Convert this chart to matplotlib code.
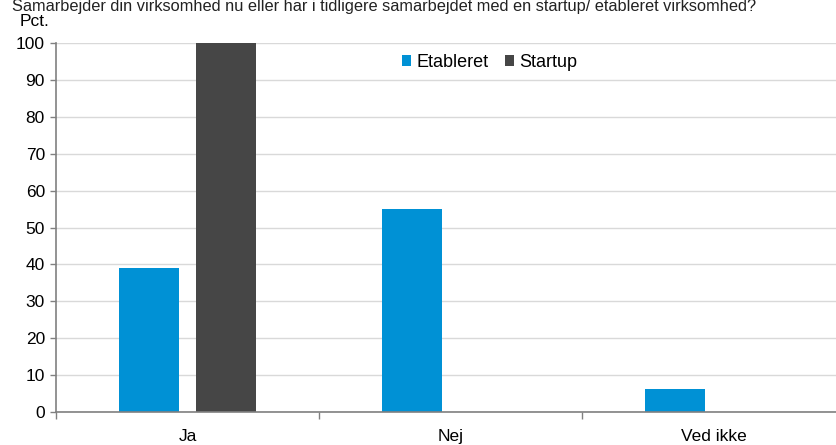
import matplotlib
matplotlib.use("Agg")
import matplotlib.pyplot as plt
import numpy as np

plt.rcParams['font.family'] = ['Liberation Sans', 'DejaVu Sans']

categories = ["Ja", "Nej", "Ved ikke"]
etableret = [39, 55, 6.3]
startup = [100, 0, 0]
series_names = ["Etableret", "Startup"]
yticks = [0, 10, 20, 30, 40, 50, 60, 70, 80, 90, 100]
title = "Samarbejder din virksomhed nu eller har i tidligere samarbejdet med en startup/ etableret virksomhed?"

blue = "#0091D5"
dark = "#464646"

fig = plt.figure(figsize=(8.36, 4.45), dpi=100)
ax = fig.add_axes([56 / 836, 33 / 445, 789 / 836, 369 / 445])

x = np.arange(len(categories))
w = 0.228
off = 0.145
ax.bar(x - off, etableret, width=w, color=blue, label=series_names[0], zorder=3)
ax.bar(x + off, startup, width=w, color=dark, label=series_names[1], zorder=3)

ax.set_xlim(-0.5, len(categories) - 0.5)
ax.set_ylim(0, 100)
ax.set_yticks(yticks)
ax.set_yticklabels([str(v) for v in yticks], fontsize=12.5)
ax.set_xticks(x)
ax.set_xticklabels(categories, fontsize=12.5)
ax.tick_params(axis='x', length=0, pad=12)
ax.set_xticks(np.arange(len(categories)) - 0.5, minor=True)
ax.tick_params(axis='x', which='minor', length=5, color='#808080', width=1)
ax.tick_params(axis='y', length=4, color='#808080', width=1, pad=4)

ax.grid(axis='y', color='#D9D9D9', linewidth=1, zorder=0)
ax.set_axisbelow(True)
for s in ['top', 'right']:
    ax.spines[s].set_visible(False)
for s in ['left', 'bottom']:
    ax.spines[s].set_color('#808080')
    ax.spines[s].set_linewidth(1.2)
ax.spines['bottom'].set_zorder(4)

leg = ax.legend(loc='upper center', bbox_to_anchor=(0.55, 1.0), ncol=2, frameon=False,
                fontsize=13, handlelength=0.5, handleheight=0.5, handletextpad=0.3,
                columnspacing=0.9, borderaxespad=0.2)

fig.text(20 / 836, 1 - 21 / 445, "Pct.", fontsize=12.5, va='center', ha='left')
fig.text(12 / 836, 1 - 11 / 445, title, fontsize=11.8, va='baseline', ha='left', color='#222222')

fig.savefig("out.png", dpi=100)
